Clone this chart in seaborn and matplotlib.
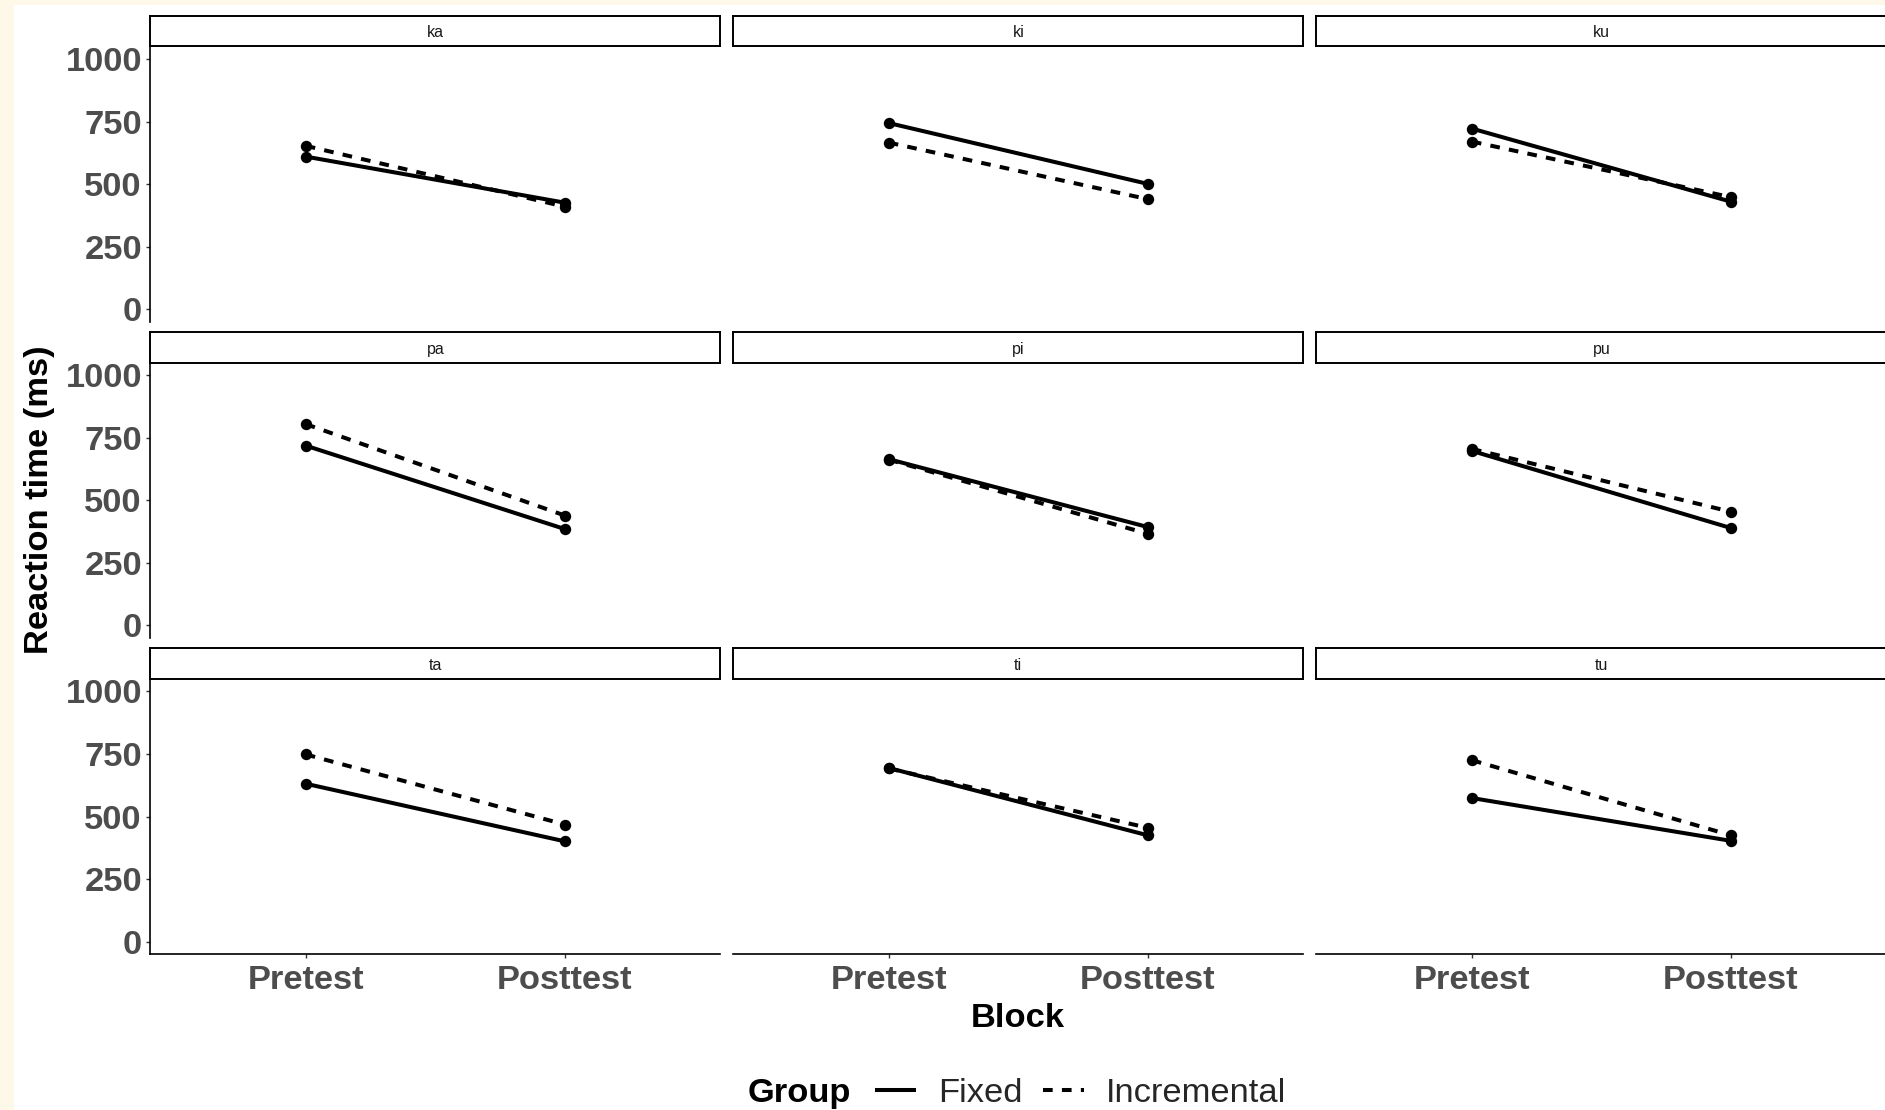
import numpy as np
import pandas as pd
import matplotlib
matplotlib.use("Agg")
import matplotlib.pyplot as plt
import seaborn as sns
from matplotlib.lines import Line2D
from matplotlib.patches import Rectangle

# ---------------- data ----------------
syllables = ["ka", "ki", "ku", "pa", "pi", "pu", "ta", "ti", "tu"]
blocks = ["Pretest", "Posttest"]
groups = ["Fixed", "Incremental"]
fixed_pre = [610, 744, 722, 718, 664, 697, 631, 694, 574]
fixed_post = [426, 501, 430, 385, 393, 389, 401, 425, 403]
incr_pre = [653, 666, 670, 804, 662, 705, 748, 692, 725]
incr_post = [410, 440, 448, 439, 366, 454, 468, 455, 425]
y_ticks = [0, 250, 500, 750, 1000]

rows = []
for i, s in enumerate(syllables):
    rows.append((s, "Pretest", "Fixed", fixed_pre[i]))
    rows.append((s, "Posttest", "Fixed", fixed_post[i]))
    rows.append((s, "Pretest", "Incremental", incr_pre[i]))
    rows.append((s, "Posttest", "Incremental", incr_post[i]))
df = pd.DataFrame(rows, columns=["Syllable", "Block", "Group", "RT"])

# ---------------- style ----------------
sns.set_theme(style="white")
plt.rcParams["font.family"] = ["Liberation Sans", "DejaVu Sans"]

W, H = 1885, 1110
fig = plt.figure(figsize=(W / 100, H / 100), dpi=100)
fig.patch.set_facecolor("#FEF8E8")
fig.add_artist(Rectangle((14 / W, 0), 1, (H - 5) / H, transform=fig.transFigure,
                         facecolor="white", edgecolor="none", zorder=-10))

FS = 24.8
TICKC = "#4D4D4D"
col_left = [150.3, 733.3, 1316.4]
pan_w = 570
row_top = [46.4, 362.5, 678.8]
pan_h = 275.5
strip_h = 30.5
LW = 2.9
DASH = [2.4, 2.3]

for i, syl in enumerate(syllables):
    r, c = divmod(i, 3)
    L, T = col_left[c], row_top[r]
    ax = fig.add_axes([L / W, 1 - (T + pan_h) / H, pan_w / W, pan_h / H])
    ax.set_facecolor("white")
    sub = df[df["Syllable"] == syl]
    sns.pointplot(data=sub, x="Block", y="RT", hue="Group", order=blocks,
                  hue_order=groups, palette=["black", "black"],
                  linestyles=["-", "--"], markers=["o", "o"], errorbar=None,
                  legend=False, ax=ax, linewidth=LW, markersize=8.2)
    for ln in ax.lines:
        if ln.get_linestyle() == "--":
            ln.set_dashes(DASH)
        ln.set_markeredgewidth(0)
        ln.set_solid_capstyle("butt")
        ln.set_dash_capstyle("butt")
    ax.set_xlim(-0.6, 1.6)
    ax.set_ylim(-50, 1050)
    ax.set_yticks(y_ticks)
    ax.set_xlabel("")
    ax.set_ylabel("")
    for side in ["top", "right"]:
        ax.spines[side].set_visible(False)
    ax.spines["left"].set_visible(c == 0)
    ax.spines["bottom"].set_visible(r == 2)
    for side in ["left", "bottom"]:
        ax.spines[side].set_color("black")
        ax.spines[side].set_linewidth(1.2)
    ax.tick_params(axis="y", left=(c == 0), labelleft=(c == 0), length=3,
                   width=1.0, color="#333333", labelsize=FS, labelcolor=TICKC, pad=3)
    ax.tick_params(axis="x", bottom=(r == 2), labelbottom=(r == 2), length=3,
                   width=1.0, color="#333333", labelsize=FS, labelcolor=TICKC, pad=4.6)
    for lab in ax.get_yticklabels() + ax.get_xticklabels():
        lab.set_fontweight("bold")

    sax = fig.add_axes([L / W, 1 - T / H, pan_w / W, strip_h / H])
    sax.set_facecolor("white")
    sax.set_xticks([])
    sax.set_yticks([])
    for sp in sax.spines.values():
        sp.set_visible(True)
        sp.set_color("black")
        sp.set_linewidth(1.4)
    sax.text(0.5, 0.44, syl, ha="center", va="center", fontsize=11.5,
             color="#1A1A1A", transform=sax.transAxes)

fig.text(39.6 / W, 1 - 500 / H, "Reaction time (ms)", rotation=90, ha="center",
         va="center", fontsize=FS, fontweight="bold", color="black")
fig.text(1018 / W, 1 - 1018.3 / H, "Block", ha="center", va="center",
         fontsize=FS, fontweight="bold", color="black")

LEG_Y = 1093.6
fig.text(748 / W, 1 - LEG_Y / H, "Group", ha="left", va="center",
         fontsize=FS, fontweight="bold", color="black")
h1 = Line2D([], [], color="black", linewidth=LW, linestyle="-",
            solid_capstyle="butt")
h2 = Line2D([], [], color="black", linewidth=LW, dashes=DASH,
            dash_capstyle="butt")
fig.legend(handles=[h1, h2], labels=groups, ncol=2, loc="center left",
           bbox_to_anchor=(875 / W, 1 - LEG_Y / H), frameon=False,
           fontsize=FS, borderpad=0, borderaxespad=0, handlelength=1.19,
           handletextpad=0.64, columnspacing=0.6)

fig.savefig("out.png", dpi=100)
